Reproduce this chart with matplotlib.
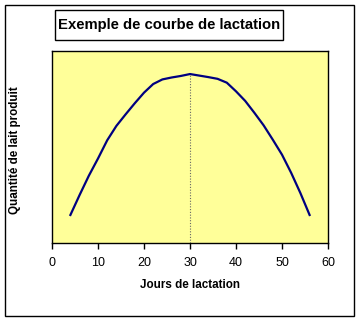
import matplotlib.pyplot as plt
from matplotlib.patches import Rectangle

# lactation curve (y in arbitrary units, 0-100)
jours = [4, 6, 8, 10, 12, 14, 16, 18, 20, 22, 24, 26, 28, 30,
         32, 34, 36, 38, 40, 42, 44, 46, 48, 50, 52, 54, 56]
lait = [14.6, 25, 35, 44, 53.5, 61, 67, 72.8, 78.3, 82.8, 85.2, 86.2, 87, 88,
        87.2, 86.4, 85.5, 83.5, 79, 74, 67.8, 61.3, 53.8, 46, 36.5, 26, 14.6]
pic_jour = 30
pic_lait = 88
xticks = [0, 10, 20, 30, 40, 50, 60]

plt.rcParams['font.family'] = ['Liberation Sans', 'DejaVu Sans']

fig = plt.figure(figsize=(3.61, 3.22), dpi=100)
fig.patch.set_facecolor("white")

# outer chart border
fig.patches.append(Rectangle((5/361, 1 - 316/322), 349/361, 311/322,
                             transform=fig.transFigure, fill=False,
                             edgecolor="black", linewidth=1))

# title box
fig.patches.append(Rectangle((55/361, 1 - 40/322), 228/361, 30/322,
                             transform=fig.transFigure, fill=False,
                             edgecolor="black", linewidth=1))
fig.text(169/361, 1 - 25/322, "Exemple de courbe de lactation",
         ha="center", va="center", fontsize=10.7, fontweight="bold")

ax = fig.add_axes([52/361, 79/322, 276/361, 192/322])
ax.set_facecolor("#FFFF99")
ax.plot(jours, lait, color="#000080", linewidth=1.6)
ax.plot([pic_jour, pic_jour], [0, pic_lait], color="#666666",
        linestyle=(0, (1, 1.5)), linewidth=0.8)

ax.set_xlim(0, 60)
ax.set_ylim(0, 100)
ax.set_xticks(xticks)
ax.set_yticks([])
ax.tick_params(axis="x", direction="out", length=4, width=1, labelsize=9, pad=6)
for s in ax.spines.values():
    s.set_linewidth(1)
    s.set_color("black")

ax.set_xlabel("Jours de lactation", fontsize=8.4, fontweight="bold", labelpad=7)
fig.text(15/361, 1 - 150/322, "Quantité de lait produit", rotation=90,
         ha="center", va="center", fontsize=8.4, fontweight="bold")

fig.savefig("out.png", dpi=100)
